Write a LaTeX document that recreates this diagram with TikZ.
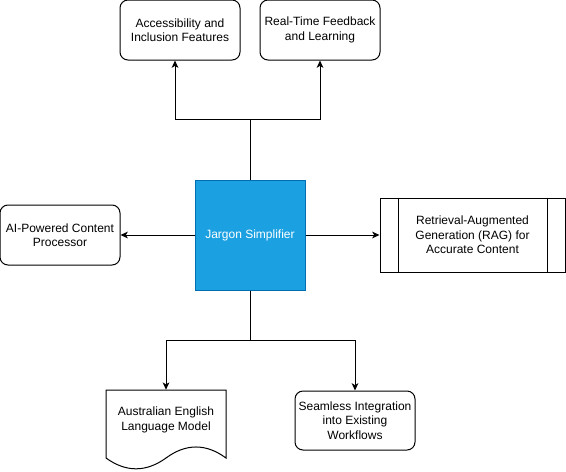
\documentclass[tikz,border=0pt]{standalone}
\usepackage{fontspec}
\setmainfont{Liberation Sans}
\usetikzlibrary{arrows.meta}
\definecolor{coreblue}{HTML}{1BA1E2}
\definecolor{coreline}{HTML}{006EAF}
\tikzset{
  every node/.style={font=\fontsize{9pt}{10.8pt}\selectfont, align=center, inner sep=0pt},
  box/.style={draw, line width=0.75pt, rounded corners=6pt, minimum width=90pt, minimum height=45pt},
  core/.style={draw=coreline, fill=coreblue, text=white, line width=0.75pt, minimum width=82.5pt, minimum height=82.5pt},
  proc/.style={draw, line width=0.75pt, minimum width=138.75pt, minimum height=55.5pt},
  link/.style={line width=0.75pt, -{Stealth[length=5.5pt,width=5pt,inset=1.5pt]}}
}
\begin{document}
\begin{tikzpicture}[x=0.75pt, y=-0.75pt]
      \useasboundingbox (0,0) rectangle (566,471);
      \draw[line width=0.75pt]
        (226,390) -- (106,390) -- (106,458)
        .. controls (126,472.4) and (146,472.4) .. (166,458)
        .. controls (186,443.3) and (206,443.3) .. (226,458) -- cycle;
      \draw
        (250,235) node[core] (core){Jargon Simplifier}
        (180,30) node[box] (access){Accessibility and\\Inclusion Features}
        (320,30) node[box] (feedback){Real-Time Feedback\\and Learning}
        (60,235) node[box] (ai){AI-Powered Content\\Processor}
        (472.5,235) node[proc] (rag){Retrieval-Augmented\\Generation (RAG) for\\Accurate Content}
        (166,420) node[minimum width=90pt, minimum height=45pt] (lang){Australian English\\Language Model}
        (355,420.5) node[box, minimum height=44.25pt] (seamless){Seamless Integration\\into Existing\\Workflows};
      \draw[line width=0.75pt]
        ([xshift=13.875pt]rag.north west) -- ([xshift=13.875pt]rag.south west)
        ([xshift=-13.875pt]rag.north east) -- ([xshift=-13.875pt]rag.south east);
      \begin{scope}[link]
        \draw (core.north) -- ++(0,-60) -| ([xshift=-3.75pt]access.south);
        \draw (core.north) -- ++(0,-60) -| (feedback.south);
        \draw (core.west) to (ai.east);
        \draw (core.east) to (rag.west);
        \draw (core.south) -- ++(0,50) -| (lang.north);
        \draw (core.south) -- ++(0,50) -| (seamless.north);
      \end{scope}
    \end{tikzpicture}
\end{document}
